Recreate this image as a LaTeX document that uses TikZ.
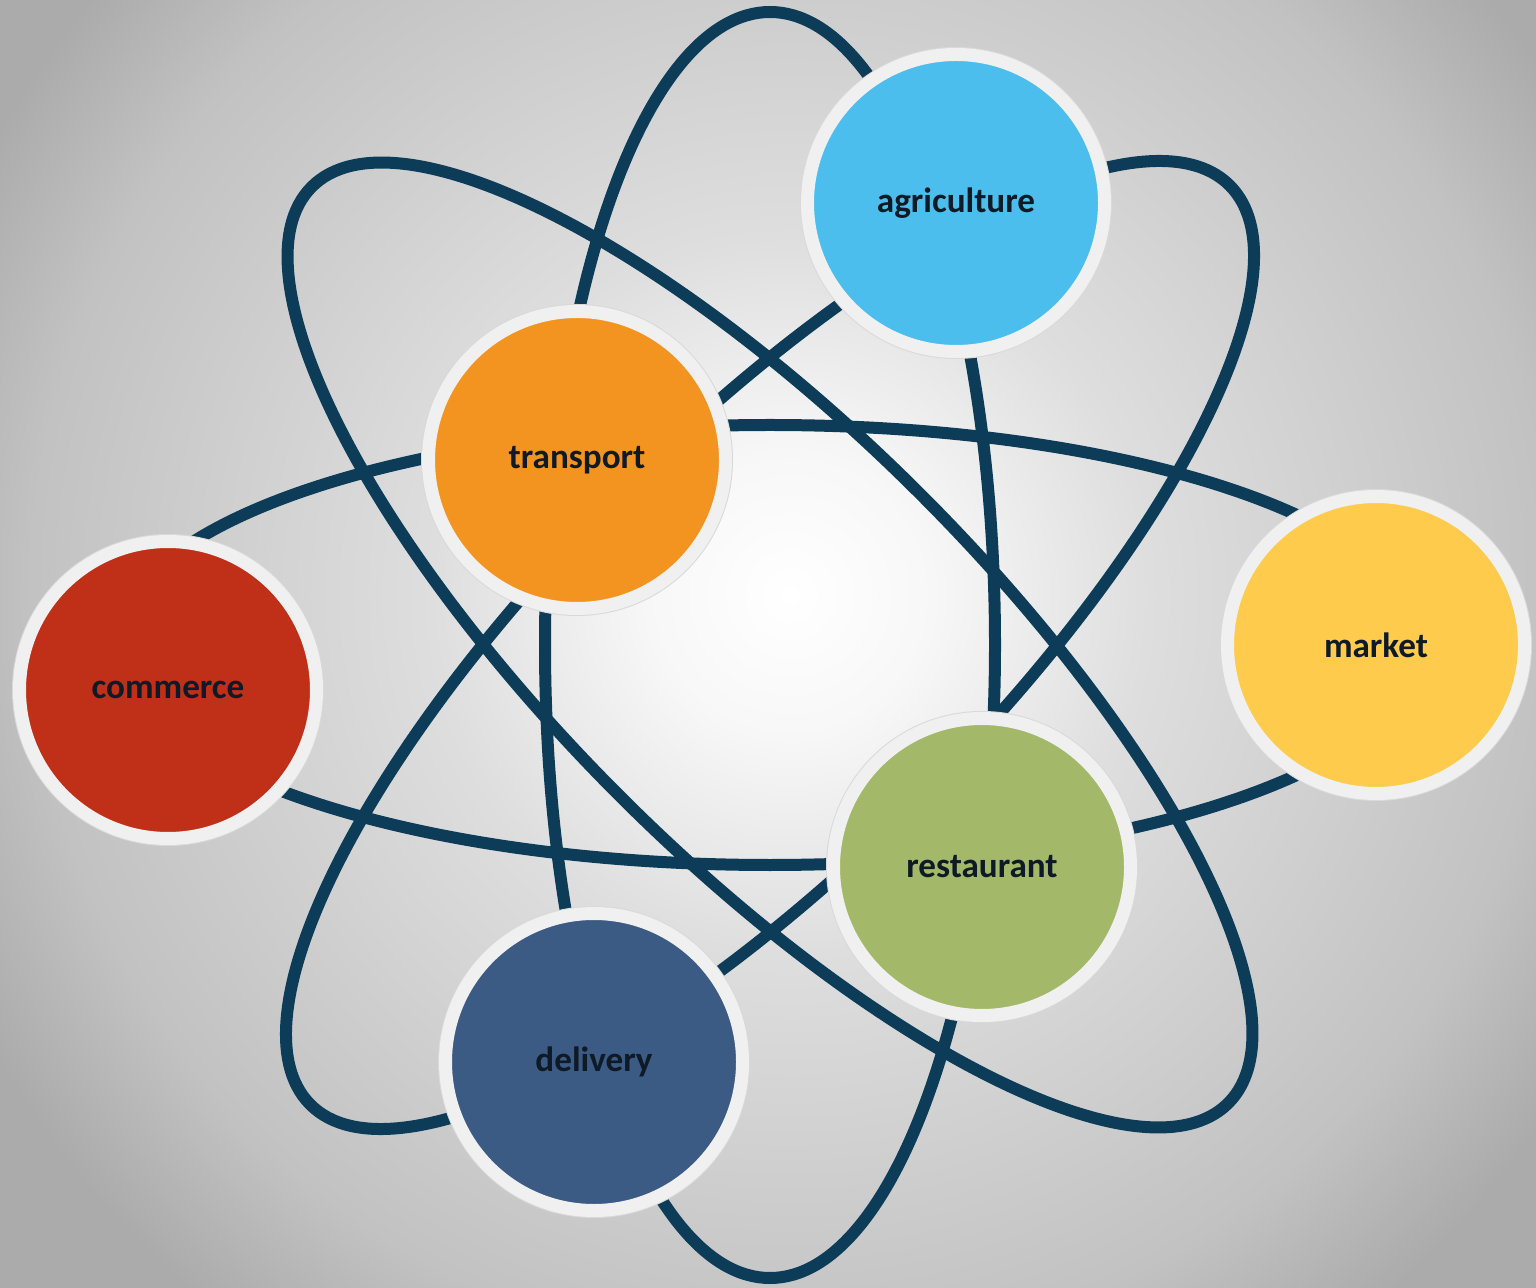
\documentclass[tikz,border=0pt]{standalone}
\usepackage{fontspec}
\setmainfont{Carlito}
\usepackage{tikz}
\usetikzlibrary{calc}

\definecolor{orbitblue}{HTML}{0C3C58}
\definecolor{ringgray}{HTML}{F0F0F0}
\definecolor{labelink}{HTML}{0E1A26}
\definecolor{agriblue}{HTML}{4BBEED}
\definecolor{transorange}{HTML}{F39420}
\definecolor{commred}{HTML}{C02F17}
\definecolor{marketyellow}{HTML}{FECB4C}
\definecolor{restgreen}{HTML}{A3B868}
\definecolor{delivblue}{HTML}{3B5A84}
\definecolor{bgA}{gray}{0.97}
\definecolor{bgB}{gray}{0.87}
\definecolor{bgC}{gray}{0.76}
\definecolor{bgD}{gray}{0.67}
\pgfdeclareradialshading{bgglow}{\pgfpoint{0bp}{0bp}}{color(0bp)=(white); color(3.5bp)=(bgA); color(9bp)=(bgB); color(19bp)=(bgC); color(23bp)=(bgD); color(50bp)=(bgD)}

\tikzset{
	orbit/.style={draw=orbitblue, line width=0.12cm},
	hub/.style={circle, minimum size=2.97cm, inner sep=0pt, line width=0.13cm, draw=ringgray,
		preaction={draw=gray!30, line width=0.15cm},
		text=labelink, font=\fontsize{10}{12}\selectfont\bfseries}
}

\begin{document}
\begin{tikzpicture}[scale=1]
	\useasboundingbox (0,0) rectangle (15.36,12.87);
	
	% background glow
	\begin{scope}
		\clip (0,0) rectangle (15.36,12.87);
		\shade[shading=bgglow] (-2.10,-3.08) rectangle (17.90,16.92);
	\end{scope}
	
	\coordinate (core) at (7.70,6.42);
	
	% orbits
	\draw[orbit] (core) ellipse (6.53 and 2.20);
	\draw[orbit] (core) ellipse (2.25 and 6.33);
	\draw[orbit, rotate around={45:(core)}] (core) ellipse (6.50 and 2.14);
	\draw[orbit, rotate around={-45:(core)}] (core) ellipse (6.48 and 2.13);
	
	% nodes
	\node (agri) at (9.56,10.84) [hub, fill=agriblue] {agriculture};
	\node (trans) at (5.77,8.27) [hub, fill=transorange] {transport};
	\node (comm) at (1.68,5.97) [hub, fill=commred] {commerce};
	\node (market) at (13.76,6.42) [hub, fill=marketyellow] {market};
	\node (rest) at (9.82,4.20) [hub, fill=restgreen] {restaurant};
	\node (deliv) at (5.94,2.25) [hub, fill=delivblue] {delivery};
\end{tikzpicture}
\end{document}
